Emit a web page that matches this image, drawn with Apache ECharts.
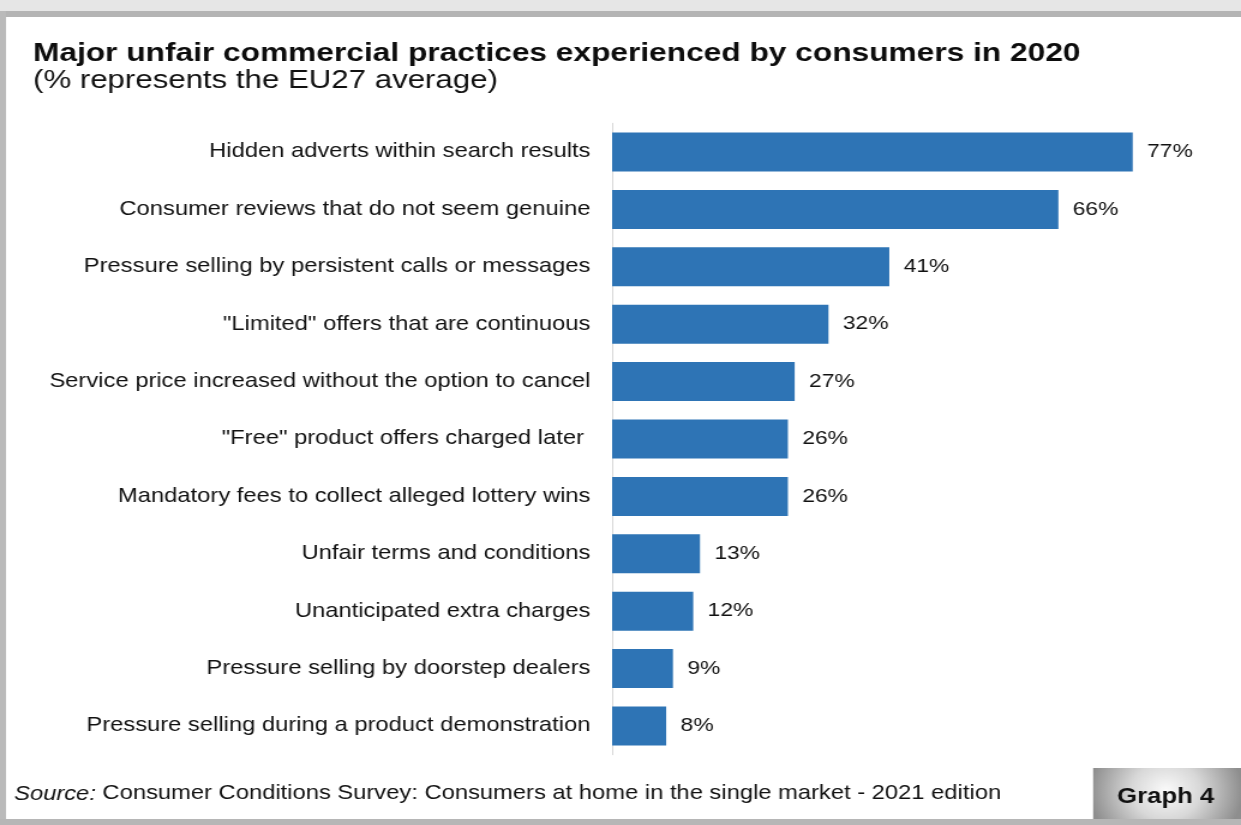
<!DOCTYPE html>
<html>
<head>
<meta charset="utf-8">
<script src="https://cdn.jsdelivr.net/npm/echarts@6/dist/echarts.min.js"></script>
<style>
  html, body { margin: 0; padding: 0; background: #ffffff; overflow: hidden; }
  /* the slide is laid out on a narrower canvas and widened to the full page */
  #chart { width: 1034px; height: 825px; transform-origin: 0 0; transform: scaleX(1.2002); }
</style>
</head>
<body>
<div id="chart"></div>
<script>
// Practices listed top to bottom, with the share of consumers (EU27 average, %)
const categories = [
  'Hidden adverts within search results',
  'Consumer reviews that do not seem genuine',
  'Pressure selling by persistent calls or messages',
  '"Limited" offers that are continuous',
  'Service price increased without the option to cancel',
  '"Free" product offers charged later ',
  'Mandatory fees to collect alleged lottery wins',
  'Unfair terms and conditions',
  'Unanticipated extra charges',
  'Pressure selling by doorstep dealers',
  'Pressure selling during a product demonstration'
];
const values = [77, 66, 41, 32, 27, 26, 26, 13, 12, 9, 8];

const titleText = 'Major unfair commercial practices experienced by consumers in 2020';
const subtitleText = '(% represents the EU27 average)';
const sourceLabel = 'Source:';
const sourceText = ' Consumer Conditions Survey: Consumers at home in the single market - 2021 edition';
const badgeText = 'Graph 4';

const FONT = '"Liberation Sans", Arial, sans-serif';

const chart = echarts.init(document.getElementById('chart'), null, { renderer: 'canvas' });

chart.setOption({
  backgroundColor: '#ffffff',
  animation: false,
  grid: { left: 510, right: 17, top: 123.3, bottom: 70.3, containLabel: false },
  xAxis: {
    type: 'value',
    min: 0,
    max: 90,
    show: false
  },
  yAxis: {
    type: 'category',
    inverse: true,
    data: categories,
    axisLine: { show: true, lineStyle: { color: '#d9d9d9', width: 1 } },
    axisTick: { show: false },
    axisLabel: {
      margin: 18,
      color: '#111111',
      fontFamily: FONT,
      fontSize: 19.8,
      padding: [3, 0, 0, 0]
    }
  },
  series: [{
    type: 'bar',
    data: values,
    barCategoryGap: '32%',
    itemStyle: { color: '#2e74b5' },
    label: {
      show: true,
      position: 'right',
      distance: 12,
      formatter: '{c}%',
      color: '#111111',
      fontFamily: FONT,
      fontSize: 19,
      padding: [3, 0, 0, 0]
    }
  }],
  graphic: [
    // outer frame bands
    { type: 'rect', z: -10, shape: { x: 0, y: 0, width: 1034, height: 11 }, style: { fill: '#e6e6e6' } },
    { type: 'rect', z: -10, shape: { x: 0, y: 11, width: 1034, height: 6 }, style: { fill: '#b4b4b4' } },
    { type: 'rect', z: -10, shape: { x: 0, y: 11, width: 5, height: 814 }, style: { fill: '#bababa' } },
    { type: 'rect', z: -10, shape: { x: 0, y: 819, width: 1034, height: 6 }, style: { fill: '#b6b6b6' } },
    // heading
    {
      type: 'text', left: 27.5, top: 40.5,
      style: { text: titleText, fill: '#0d0d0d', font: 'bold 26.4px ' + FONT }
    },
    {
      type: 'text', left: 27.5, top: 68,
      style: { text: subtitleText, fill: '#111111', font: '26px ' + FONT }
    },
    // source line
    {
      type: 'text', left: 11.7, top: 784,
      style: {
        text: '{i|' + sourceLabel + '}{n|' + sourceText + '}',
        rich: {
          i: { font: 'italic 19.8px ' + FONT, fill: '#111111' },
          n: { font: '19.8px ' + FONT, fill: '#111111' }
        }
      }
    },
    // badge
    {
      type: 'rect', z: 5,
      shape: { x: 910.8, y: 768, width: 124, height: 51 },
      style: {
        fill: new echarts.graphic.RadialGradient(0.49, 0.45, 1.25, [
          { offset: 0, color: '#fbfbfb' },
          { offset: 0.45, color: '#d8d8d8' },
          { offset: 1, color: '#8e8e8e' }
        ])
      }
    },
    {
      type: 'text', z: 6, left: 930.8, top: 787,
      style: { text: badgeText, fill: '#111111', font: 'bold 21.4px ' + FONT }
    }
  ]
});
</script>
</body>
</html>
